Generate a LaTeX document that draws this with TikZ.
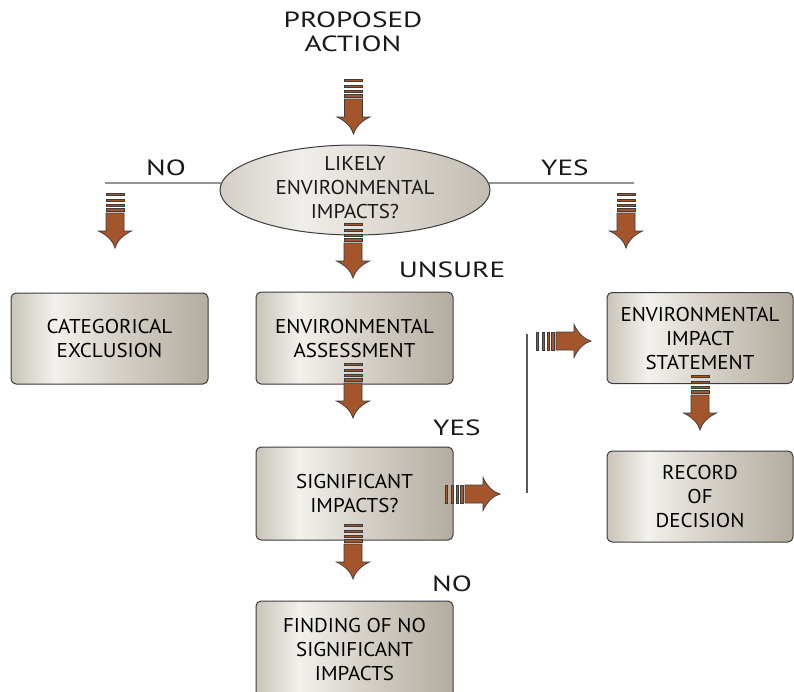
\documentclass[tikz,border=0pt]{standalone}
\usepackage{fontspec}
\setmainfont{PT Sans}
\newfontfamily\lblfont[FakeStretch=1.33]{PT Sans}
\newfontfamily\boxfont[FakeStretch=1.05]{PT Sans}
\usetikzlibrary{shapes.geometric}
\definecolor{mA}{HTML}{C9C4BA}
\definecolor{mB}{HTML}{F3F1ED}
\definecolor{mC}{HTML}{D9D5CD}
\definecolor{mD}{HTML}{B3AC9F}
\definecolor{eA}{HTML}{D2CEC6}
\definecolor{eB}{HTML}{F0EEEA}
\definecolor{eC}{HTML}{DEDAD3}
\definecolor{eD}{HTML}{C2BCB1}
\definecolor{brn}{HTML}{A5552B}
\definecolor{edge}{HTML}{3C3C3C}
\pgfdeclarehorizontalshading{metal}{100bp}{color(0bp)=(mA); color(25bp)=(mA); color(36bp)=(mB); color(50bp)=(mC); color(75bp)=(mD); color(100bp)=(mD)}
\pgfdeclarehorizontalshading{ellmetal}{100bp}{color(0bp)=(eA); color(25bp)=(eA); color(40bp)=(eB); color(55bp)=(eC); color(75bp)=(eD); color(100bp)=(eD)}
\tikzset{
  box/.style={draw=edge, line width=1pt, rounded corners=5pt, shading=metal, align=center, inner sep=0pt, font=\boxfont\fontsize{20}{24}\selectfont},
  lbl/.style={align=center, inner sep=0pt, font=\lblfont\fontsize{22}{24}\selectfont, text=black!90},
  txt/.style={align=center, inner sep=0pt, font=\boxfont\fontsize{20}{24}\selectfont, text=black!90},
  thinline/.style={draw=black!65, line width=1.1pt},
  arrbar/.style={fill=brn, draw=edge, line width=0.7pt},
  barrow/.pic={
    \foreach \a/\b in {0/2.5, 6/8.5, 11/13.5, 15.5/18.5}
      \filldraw[arrbar] (-9,\a) rectangle (9,\b);
    \filldraw[arrbar] (-9,20) -- (-9,38) -- (-16.5,38)
      .. controls (-8,42) and (-2,48) .. (0,55)
      .. controls (2,48) and (8,42) .. (16.5,38)
      -- (9,38) -- (9,20) -- cycle;
  }
}
\begin{document}
\begin{tikzpicture}[x=1pt,y=-1pt]
\useasboundingbox (0,0) rectangle (794,691);
\clip (0,0) rectangle (794,691);
\fill[white] (0,0) rectangle (794,691);

% ellipse
\node[ellipse, draw=edge, line width=1pt, shading=ellmetal, minimum width=270pt, minimum height=90pt, inner sep=0pt] (ell) at (355,190) {};
\node[txt] (elltext) at (355,187.5) {LIKELY\\ENVIRONMENTAL\\IMPACTS?};

% boxes
\node[box, minimum width=197pt, minimum height=91pt] (cat) at (109.5,338.5) {CATEGORICAL\\EXCLUSION};
\node[box, minimum width=197pt, minimum height=92pt] (ea) at (354.5,338) {ENVIRONMENTAL\\ASSESSMENT};
\node[box, minimum width=186pt, minimum height=91pt] (eis) at (700,338) {ENVIRONMENTAL\\IMPACT\\STATEMENT};
\node[box, minimum width=197pt, minimum height=93pt] (sig) at (354.5,493.5) {SIGNIFICANT\\IMPACTS?};
\node[box, minimum width=186pt, minimum height=91pt] (rod) at (700,496.5) {RECORD\\OF\\DECISION};
\node[box, minimum width=197pt, minimum height=96pt] (fonsi) at (354.5,649) {FINDING OF NO\\SIGNIFICANT\\IMPACTS};

% labels
\node[lbl] (prop) at (353,32) {PROPOSED\\ACTION};
\node[lbl] (no1) at (166,168) {NO};
\node[lbl] (yes1) at (565,168) {YES};
\node[lbl] (unsure) at (452,270) {UNSURE};
\node[lbl] (yes2) at (457,428) {YES};
\node[lbl] (no2) at (452,584) {NO};

% lines
\coordinate (nl) at (105,183);
\coordinate (yl) at (634,183);
\coordinate (vtop) at (527,334);
\coordinate (vbot) at (527,493);
\draw[thinline] (ell.177) -- (nl);
\draw[thinline] (ell.3) -- (yl);
\draw[thinline] (vtop) -- (vbot);

% block arrows
\pic at (353.5,79) {barrow};
\pic at (115,193) {barrow};
\pic at (626,193) {barrow};
\pic at (353,223) {barrow};
\pic at (353,363) {barrow};
\pic at (353,524) {barrow};
\pic at (700,375) {barrow};
\pic[rotate=90] at (445,494) {barrow};
\pic[rotate=90] at (536,341) {barrow};
\end{tikzpicture}
\end{document}
